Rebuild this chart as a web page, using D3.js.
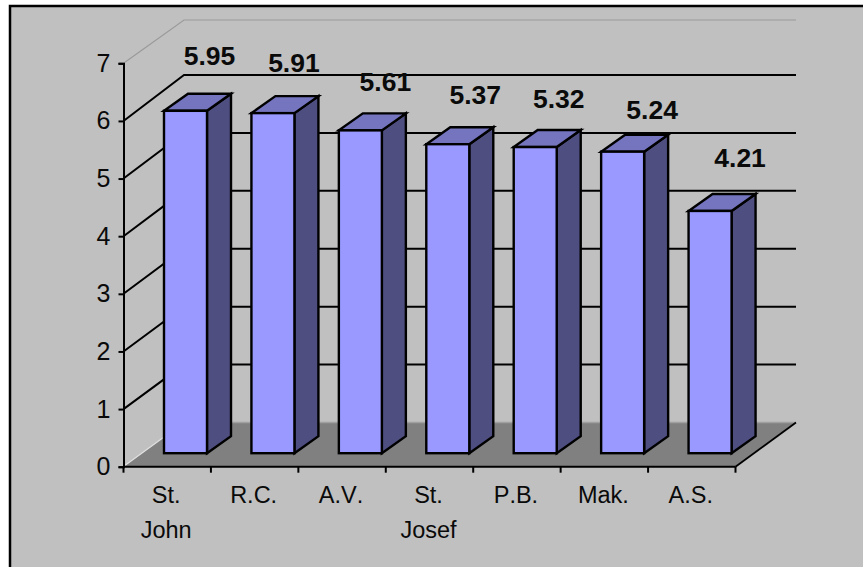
<!DOCTYPE html>
<html>
<head>
<meta charset="utf-8">
<script src="https://cdn.jsdelivr.net/npm/d3@7"></script>
<style>
html,body{margin:0;padding:0;background:#fff;}
svg{display:block;}
text{font-family:"Liberation Sans",Arial,sans-serif;fill:#0a0a0a;font-kerning:none;}
</style>
</head>
<body>
<script>
// Chart data
const categories = [["St.","John"],["R.C."],["A.V."],["St.","Josef"],["P.B."],["Mak."],["A.S."]];
const values = [5.95,5.91,5.61,5.37,5.32,5.24,4.21];
const yTicks = [0,1,2,3,4,5,6,7];

// Hand placement of each value label relative to its bar's front-top corner
const labelDx = [24,21,25,27.5,23.5,29.5,30];
const labelDy = [-46,-41,-39,-40,-39,-33,-44];

const width = 863, height = 567;
const svg = d3.select("body").append("svg").attr("width",width).attr("height",height);

// Plot frame: front-floor edge and the oblique depth vector of the 3D box
const left = 123.5, right = 735.5, floorY = 466.7, topY = 63.3;
const depthX = 60.5, floorBackY = 422.5, topBackY = 20;

const bandX = d3.scaleBand().domain(d3.range(categories.length)).range([left,right]);
const y = d3.scaleLinear().domain([0,7]).range([floorY,topY]);
// Back wall gridlines have their own vertical spacing
const backY = d3.scaleLinear().domain([0,6]).range([floorBackY,75]);

// Bars sit part-way into the floor and have a smaller depth than the box
const barInset = {x:40.5,y:-13.5};
const barDepth = {x:24,y:-17};
const barWidth = 43;
const barHeight = d3.scaleLinear().domain([0,7]).range([0,402.8]);

const pts = a => a.map(p=>p.join(",")).join(" ");

// Chart area background and the border running off the right and bottom
svg.append("rect").attr("x",10).attr("y",6).attr("width",width).attr("height",height)
  .attr("fill","#c0c0c0").attr("stroke","#000").attr("stroke-width",2.5);

// Floor
svg.append("polygon")
  .attr("points",pts([[left,floorY],[right,floorY],[right+depthX,floorBackY],[left+depthX,floorBackY]]))
  .attr("fill","#808080");
svg.append("line").attr("x1",left+depthX).attr("x2",right+depthX)
  .attr("y1",floorBackY).attr("y2",floorBackY).attr("stroke","#a0a0a0").attr("stroke-width",1.5);
svg.append("line").attr("x1",left+1).attr("y1",floorY-1).attr("x2",left+depthX).attr("y2",floorBackY)
  .attr("stroke","#e0e0e0").attr("stroke-width",1.2);
svg.append("line").attr("x1",right).attr("y1",floorY).attr("x2",right+depthX).attr("y2",floorBackY)
  .attr("stroke","#000").attr("stroke-width",1.8);

// Gridlines wrap from the side wall across the back wall
yTicks.slice(1).forEach(t=>{
  const isTop = t===yTicks[yTicks.length-1];
  const by = isTop ? topBackY : backY(t);
  svg.append("polyline")
    .attr("points",pts([[left,y(t)],[left+depthX,by],[right+depthX,by]]))
    .attr("fill","none")
    .attr("stroke",isTop?"#9a9a9a":"#000")
    .attr("stroke-width",isTop?1.2:2);
});

// Y axis
const yAxis = d3.axisLeft(y).tickValues(yTicks).tickSize(5).tickPadding(8).tickFormat(d3.format("d"));
const yG = svg.append("g").attr("transform",`translate(${left},0)`).call(yAxis);
yG.select(".domain").attr("stroke","#000").attr("stroke-width",2);
yG.selectAll(".tick line").attr("stroke","#000").attr("stroke-width",2);
yG.selectAll(".tick text").attr("font-size",25).attr("font-family","Liberation Sans").attr("fill","#0a0a0a");

// X axis line and boundary ticks
const xEdges = d3.range(categories.length+1).map(i=>left+i*bandX.step());
svg.append("line").attr("x1",left).attr("x2",right).attr("y1",floorY).attr("y2",floorY)
  .attr("stroke","#000").attr("stroke-width",2);
svg.selectAll(".xtick").data(xEdges).join("line").attr("class","xtick")
  .attr("x1",d=>d).attr("x2",d=>d).attr("y1",floorY).attr("y2",floorY+6)
  .attr("stroke","#000").attr("stroke-width",2);

// Category labels, one line of text per word
const catG = svg.selectAll(".cat").data(categories).join("text").attr("class","cat")
  .attr("text-anchor","middle").attr("font-size",23.5);
catG.each(function(lines,i){
  const cx = bandX(i)+bandX.bandwidth()/2;
  d3.select(this).selectAll("tspan").data(lines).join("tspan")
    .attr("x",cx-1).attr("y",(d,j)=>503+j*35).text(d=>d);
});

// Bars with front, top and side faces
const bars = svg.selectAll(".bar").data(values).join("g").attr("class","bar");
bars.each(function(v,i){
  const g = d3.select(this);
  const x0 = bandX(i)+barInset.x, x1 = x0+barWidth;
  const yb = floorY+barInset.y, yt = yb-barHeight(v);
  const common = s=>s.attr("stroke","#000").attr("stroke-width",2.4).attr("stroke-linejoin","miter");
  common(g.append("polygon").attr("fill","#4e4e80")
    .attr("points",pts([[x1,yb],[x1+barDepth.x,yb+barDepth.y],[x1+barDepth.x,yt+barDepth.y],[x1,yt]])));
  common(g.append("polygon").attr("fill","#7474bf")
    .attr("points",pts([[x0,yt],[x1,yt],[x1+barDepth.x,yt+barDepth.y],[x0+barDepth.x,yt+barDepth.y]])));
  common(g.append("rect").attr("x",x0).attr("y",yt).attr("width",barWidth).attr("height",yb-yt).attr("fill","#9999ff"));
  g.append("text").attr("text-anchor","middle").attr("font-size",26.5).attr("font-weight","bold")
    .attr("x",x0+barWidth/2+labelDx[i]).attr("y",yt+labelDy[i]).text(v.toFixed(2));
});
</script>
</body>
</html>
